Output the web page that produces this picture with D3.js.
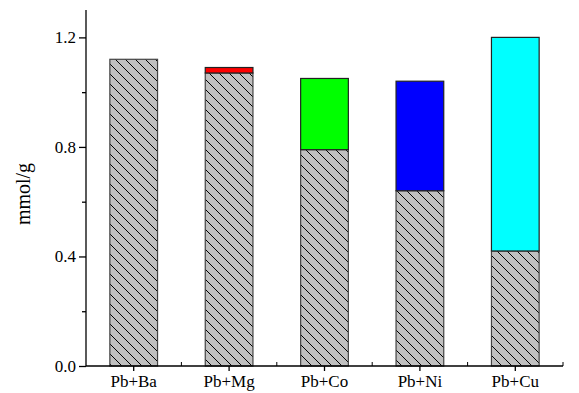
<!DOCTYPE html>
<html>
<head>
<meta charset="utf-8">
<script src="https://cdn.jsdelivr.net/npm/d3@7"></script>
<style>
  body { margin: 0; background: #fff; }
  svg text { font-family: "Liberation Serif", "Times New Roman", serif; fill: #000; }
</style>
</head>
<body>
<svg id="chart" width="579" height="393"></svg>
<script>
// categories and values
const categories = ['Pb+Ba', 'Pb+Mg', 'Pb+Co', 'Pb+Ni', 'Pb+Cu']
const leadValues = [1.12, 1.07, 0.79, 0.64, 0.42]
const metalValues = [0, 0.02, 0.26, 0.40, 0.78]
const metalColors = ['#ff0000', '#ff0000', '#00ff00', '#0000ff', '#00ffff']
const yTicks = [0.0, 0.4, 0.8, 1.2]
const yMinorTicks = [0.2, 0.6, 1.0]

const svg = d3.select('#chart')
const margin = {left: 86, right: 16, top: 10, bottom: 27}
const width = 579 - margin.left - margin.right
const height = 393 - margin.top - margin.bottom

const g = svg.append('g').attr('transform', `translate(${margin.left},${margin.top})`)

const x = d3.scaleBand()
  .domain(categories)
  .range([0, width])
  .paddingInner(0.5)
  .paddingOuter(0.25)

const y = d3.scaleLinear()
  .domain([0, 1.3])
  .range([height, 0])

// hatch pattern for the lead part
const defs = svg.append('defs')
const pat = defs.append('pattern')
  .attr('id', 'hatch')
  .attr('patternUnits', 'userSpaceOnUse')
  .attr('width', 10)
  .attr('height', 10)
pat.append('rect').attr('width', 10).attr('height', 10).attr('fill', '#c0c0c0')
pat.append('path')
  .attr('d', 'M-1,-1 L11,11 M-1,9 L1,11 M9,-1 L11,1')
  .attr('stroke', '#000')
  .attr('stroke-width', 1)
  .attr('fill', 'none')

const data = categories.map((c, i) => ({
  cat: c, pb: leadValues[i], metal: metalValues[i], color: metalColors[i]
}))

// lead (bottom) bars
g.selectAll('.bar-pb')
  .data(data)
  .join('rect')
  .attr('class', 'bar-pb')
  .attr('x', (d) => x(d.cat))
  .attr('y', (d) => y(d.pb))
  .attr('width', x.bandwidth())
  .attr('height', (d) => y(0) - y(d.pb))
  .attr('fill', 'url(#hatch)')
  .attr('stroke', '#444')
  .attr('stroke-width', 1.2)

// second metal (stacked on top)
g.selectAll('.bar-metal')
  .data(data.filter((d) => d.metal > 0))
  .join('rect')
  .attr('class', 'bar-metal')
  .attr('x', (d) => x(d.cat))
  .attr('y', (d) => y(d.pb + d.metal))
  .attr('width', x.bandwidth())
  .attr('height', (d) => y(d.pb) - y(d.pb + d.metal))
  .attr('fill', (d) => d.color)
  .attr('stroke', '#222')
  .attr('stroke-width', 1.2)

// y axis
const yAxis = g.append('g')
  .call(d3.axisLeft(y).tickValues(yTicks).tickFormat(d3.format('.1f')).tickSize(7).tickPadding(3))
yAxis.append('g')
  .call(d3.axisLeft(y).tickValues(yMinorTicks).tickFormat('').tickSize(4))
  .select('.domain').remove()
yAxis.selectAll('text').style('font-size', '17px')
yAxis.select('.domain').attr('d', `M0,${height}V0`)

// x axis
const xAxis = g.append('g')
  .attr('transform', `translate(0,${height})`)
  .call(d3.axisBottom(x).tickSize(5).tickPadding(4))
xAxis.select('.domain').attr('d', `M0,0H${width}`)
xAxis.selectAll('text').style('font-size', '17px')
// minor ticks between categories
xAxis.selectAll('.minor')
  .data(categories)
  .join('line')
  .attr('class', 'minor')
  .attr('x1', (d) => x(d) + x.bandwidth() / 2 + x.step() / 2)
  .attr('x2', (d) => x(d) + x.bandwidth() / 2 + x.step() / 2)
  .attr('y1', 0)
  .attr('y2', -4)
  .attr('stroke', '#000')

g.selectAll('.domain, .tick line').attr('stroke', '#000').attr('stroke-width', 1.3)

// y label
svg.append('text')
  .attr('transform', `translate(30,${margin.top + height / 2 + 6}) rotate(-90)`)
  .attr('text-anchor', 'middle')
  .style('font-size', '20px')
  .text('mmol/g')
</script>
</body>
</html>
